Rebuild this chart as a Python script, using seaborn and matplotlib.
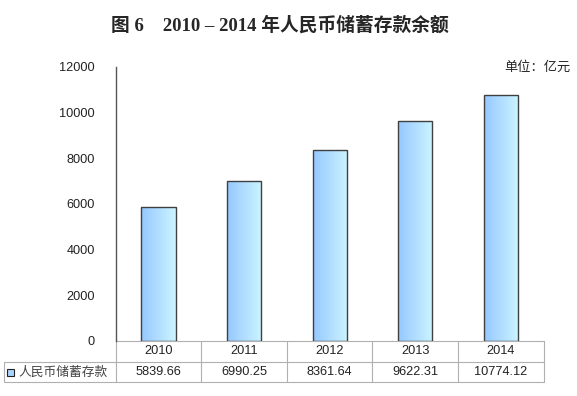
import numpy as np
import pandas as pd
import matplotlib
matplotlib.use("Agg")
import matplotlib.pyplot as plt
import seaborn as sns
from matplotlib.colors import LinearSegmentedColormap
from matplotlib.lines import Line2D
from matplotlib.patches import Rectangle

# dane
years = ["2010", "2011", "2012", "2013", "2014"]
values = [5839.66, 6990.25, 8361.64, 9622.31, 10774.12]
value_labels = ["5839.66", "6990.25", "8361.64", "9622.31", "10774.12"]
series_name = "人民币储蓄存款"
y_ticks = [0, 2000, 4000, 6000, 8000, 10000, 12000]

sns.set_style("white")
plt.rcParams['font.family'] = ['Liberation Sans', 'Noto Sans CJK SC']

df = pd.DataFrame({"year": years, "value": values})

fig = plt.figure(figsize=(5.77, 3.96), dpi=100)
ax = fig.add_axes([115.7 / 577, 1 - 340.7 / 396, 428 / 577, 274 / 396])

sns.barplot(data=df, x="year", y="value", width=0.4, color="#99ccff", ax=ax)

# gradient w słupkach
cmap = LinearSegmentedColormap.from_list("grad", ["#96c8ff", "#ccf4ff"])
grad = np.linspace(0, 1, 64).reshape(1, -1)
for p in ax.patches:
    x0, y0 = p.get_x(), p.get_y()
    w, h = p.get_width(), p.get_height()
    p.set_facecolor("none")
    p.set_edgecolor("#404040")
    p.set_linewidth(1.0)
    p.set_zorder(3)
    im = ax.imshow(grad, cmap=cmap, aspect="auto", extent=(x0, x0 + w, y0, y0 + h),
                   zorder=2, interpolation="bilinear")
    im.set_clip_path(p)

ax.set_xlim(-0.5, len(years) - 0.5)
ax.set_ylim(0, 12000)
ax.set_yticks(y_ticks)
ax.set_yticklabels([str(t) for t in y_ticks], fontsize=9.2, color="#222222")
ax.tick_params(axis="y", length=0, pad=15)
ax.set_xticks([])
ax.set_xlabel("")
ax.set_ylabel("")
for s in ["top", "right", "bottom"]:
    ax.spines[s].set_visible(False)
ax.spines["left"].set_color("#555555")
ax.spines["left"].set_linewidth(1.0)

# tabela danych pod wykresem
row1 = -21 / 274
row2 = -41 / 274
left_edge = -0.5 - (115.7 - 4) / (428 / 5)
tr = ax.get_xaxis_transform()
line_kw = dict(color="#b0b0b0", linewidth=0.8, transform=tr, clip_on=False)
ax.add_line(Line2D([-0.5, 4.5], [0, 0], **line_kw))
ax.add_line(Line2D([left_edge, 4.5], [row1, row1], **line_kw))
ax.add_line(Line2D([left_edge, 4.5], [row2, row2], **line_kw))
ax.add_line(Line2D([left_edge, left_edge], [row1, row2], **line_kw))
for i in range(len(years) + 1):
    ax.add_line(Line2D([i - 0.5, i - 0.5], [0, row2], **line_kw))

for i, (yr, lab) in enumerate(zip(years, value_labels)):
    ax.text(i, row1 / 2, yr, transform=tr, ha="center", va="center", fontsize=9.2, color="#222222")
    ax.text(i, (row1 + row2) / 2, lab, transform=tr, ha="center", va="center", fontsize=9.2, color="#222222")

fig.patches.append(Rectangle((7 / 577, 1 - 376 / 396), 7 / 577, 7 / 396, transform=fig.transFigure,
                             facecolor="#aad4ff", edgecolor="#222222", linewidth=0.8))
fig.text(18 / 577, 1 - 372 / 396, series_name, ha="left", va="center", fontsize=9.2,
         color="#444444", family=['Noto Sans CJK SC'])

# tytuł i jednostka
fig.text(280 / 577, 1 - 25 / 396, "图 6    2010 – 2014 年人民币储蓄存款余额", ha="center", va="center",
         fontsize=13.5, fontweight="bold", family=['Liberation Serif', 'Noto Sans CJK SC'])
fig.text(571 / 577, 1 - 67 / 396, "单位：亿元", ha="right", va="center", fontsize=9.5,
         family=['Noto Sans CJK SC'])

plt.savefig("out.png", dpi=100)
